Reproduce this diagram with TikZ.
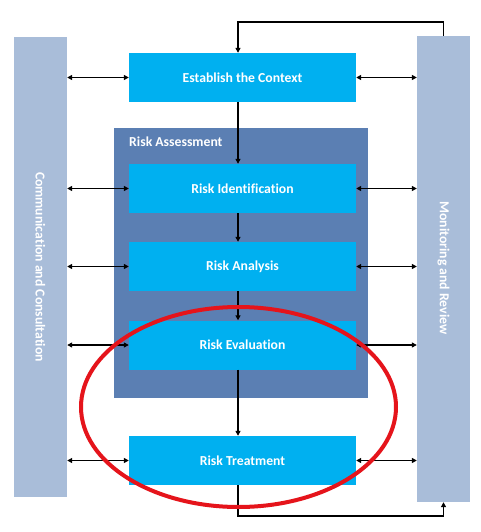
\documentclass[tikz,border=0pt]{standalone}
\usepackage{fontspec}
\setmainfont{Carlito}[Ligatures=CommonOff]
\usetikzlibrary{arrows.meta}
\definecolor{stepblue}{HTML}{00B0F0}
\definecolor{assessblue}{HTML}{5B7FB3}
\definecolor{barblue}{HTML}{A9BDD9}
\definecolor{ringred}{HTML}{E5141B}
\begin{document}
\begin{tikzpicture}[x=1pt, y=-1pt,
        every node/.style={font=\bfseries\fontsize{13.7}{15}\selectfont, text=white, inner sep=0pt},
        stepbox/.style={fill=stepblue, minimum width=227pt, minimum height=49pt},
        sidebar/.style={fill=barblue, minimum width=53pt},
        arr/.style={-{Triangle[length=5pt,width=5pt]}, line width=1.2pt},
        darr/.style={{Triangle[length=5pt,width=5pt]}-{Triangle[length=5pt,width=5pt]}, line width=1.2pt}]
    \useasboundingbox (0,0) rectangle (480,532);
    \fill[white] (0,0) rectangle (480,532);
    \node[fill=assessblue, minimum width=254pt, minimum height=270pt] (assess) at (241,263) {};
    \node[anchor=west] (assesslabel) at (129,142) {Risk Assessment};
    \node[sidebar, minimum height=460pt] (lbar) at (40.5,267) {};
    \node[sidebar, minimum height=466pt] (rbar) at (443.5,269) {};
    \node[rotate=-90] (lbartext) at (40.5,267) {Communication and Consultation};
    \node[rotate=-90] (rbartext) at (443.5,268) {Monitoring and Review};
    \node[stepbox] (context) at (242.5,77.5) {Establish the Context};
    \node[stepbox] (ident) at (242.5,188.5) {Risk Identification};
    \node[stepbox] (analysis) at (242.5,266.5) {Risk Analysis};
    \node[stepbox] (evaluation) at (242.5,345) {Risk Evaluation};
    \node[stepbox] (treatment) at (242.5,460.5) {Risk Treatment};
    \coordinate (looptop) at (238,22);
    \coordinate (loopbottom) at (238,516);
    % main flow
    \draw[arr] (context.south -| looptop) -- (ident.north -| looptop);
    \draw[arr] (ident.south -| looptop) -- (analysis.north -| looptop);
    \draw[arr] (analysis.south -| looptop) -- (evaluation.north -| looptop);
    \draw[arr] (evaluation.south -| looptop) -- (treatment.north -| looptop);
    \draw[arr] (rbar.north) |- (looptop) -- (context.north -| looptop);
    \draw[arr] (treatment.south -| loopbottom) -- (loopbottom) -| (rbar.south);
    % links to the side bars
    \foreach \n in {context, ident, analysis, evaluation, treatment} {
        \draw[darr] (\n.west -| lbar.east) -- (\n.west);
        \draw[darr] (\n.east) -- (\n.east -| rbar.west);
    }
    \draw[ringred, line width=4pt] (238.5,407) ellipse [x radius=157.5pt, y radius=100pt];
\end{tikzpicture}
\end{document}
